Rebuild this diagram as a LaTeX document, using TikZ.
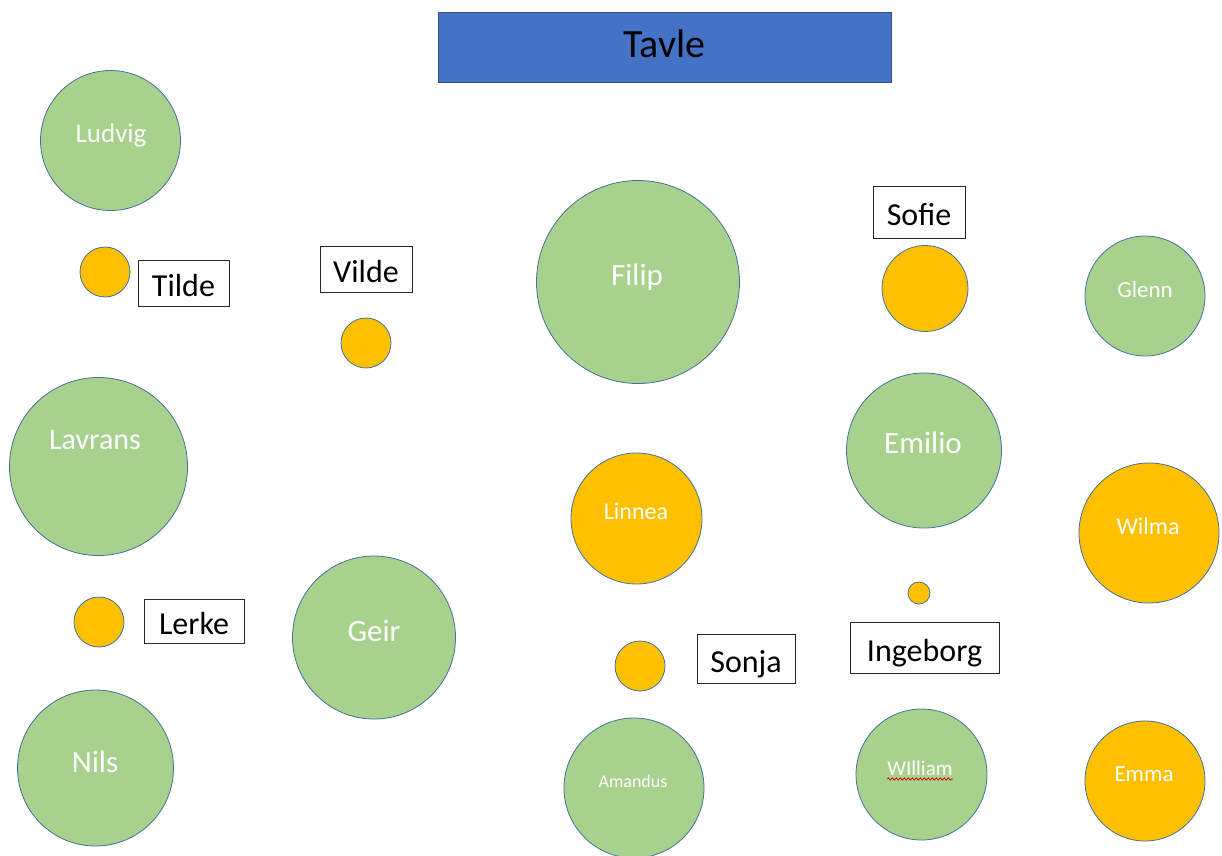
\documentclass[tikz,border=0pt]{standalone}
\usepackage{fontspec}
\setmainfont{Carlito}
\usetikzlibrary{decorations.pathmorphing}
\definecolor{grn}{HTML}{A9D18E}
\definecolor{org}{HTML}{FFC000}
\definecolor{edgeblue}{HTML}{41719C}
\definecolor{tavleblue}{HTML}{4472C4}
\definecolor{tavleedge}{HTML}{2F528F}
\begin{document}
\begin{tikzpicture}[x=1pt,y=-1pt,
  seat/.style={circle, draw=edgeblue, line width=0.8pt, fill=grn, inner sep=0pt, minimum size=#1},
  dot/.style={circle, draw=edgeblue, line width=0.8pt, fill=org, inner sep=0pt, minimum size=#1},
  namelab/.style={text=white, anchor=base, inner sep=0pt, font=\fontsize{#1}{#1}\selectfont},
  tagbox/.style={draw=black!85, line width=0.8pt, fill=white, inner sep=0pt,
    font=\fontsize{32}{32}\selectfont, text height=27.6pt, text depth=0pt},
  squiggle/.style={draw=red!85!black, line width=0.7pt, decorate,
    decoration={snake, amplitude=1.1pt, segment length=4pt}}
]
\useasboundingbox (0,0) rectangle (1222,855);

% board
\node[draw=tavleedge, line width=0.8pt, fill=tavleblue, inner sep=0pt,
  minimum width=453pt, minimum height=70pt, font=\fontsize{40}{40}\selectfont,
  text height=25.8pt, text depth=5pt] (tavle) at (664.5,47) {Tavle};

% green seats
\node[seat=140pt] (ludvig) at (110.5,140.5) {};
\node[seat=178pt] (lavrans) at (98.5,466.5) {};
\node[seat=156pt] (nils) at (95.5,768) {};
\node[seat=163pt] (geir) at (374,637.5) {};
\node[seat=203pt] (filip) at (638,282) {};
\node[seat=140pt] (amandus) at (634,788) {};
\node[seat=120pt] (glenn) at (1145,296) {};
\node[seat=155pt] (emilio) at (924,450.5) {};
\node[seat=131pt] (william) at (921.5,774.5) {};

% orange seats
\node[dot=50pt] (tildec) at (105,272) {};
\node[dot=50pt] (vildec) at (366,343) {};
\node[dot=50pt] (lerkec) at (99,622) {};
\node[dot=50pt] (sonjac) at (640,666) {};
\node[dot=86pt] (sofiec) at (925,288.5) {};
\node[dot=22pt] (ingeborgc) at (919,593) {};
\node[dot=131pt] (linnea) at (636.5,518.5) {};
\node[dot=140pt] (wilma) at (1149,533) {};
\node[dot=120pt] (emma) at (1145,781) {};

% names inside circles
\node[namelab=27] (ludviglab) at (111,142) {Ludvig};
\node[namelab=30] (lavranslab) at (95,449) {Lavrans};
\node[namelab=31] (nilslab) at (95,772) {Nils};
\node[namelab=31] (geirlab) at (374,641) {Geir};
\node[namelab=31] (fliplab) at (637,285) {Filip};
\node[namelab=24] (linnealab) at (636,519) {Linnea};
\node[namelab=18] (amanduslab) at (633,787) {Amandus};
\node[namelab=23] (glennlab) at (1145,297) {Glenn};
\node[namelab=31] (emiliolab) at (923,453) {Emilio};
\node[namelab=24] (wilmalab) at (1148,534) {Wilma};
\node[namelab=21] (williamlab) at (920,775) {WIlliam};
\node[namelab=23] (emmalab) at (1144,781) {Emma};
\draw[squiggle] ([yshift=-4pt]williamlab.base west) -- ([yshift=-4pt]williamlab.base east);

% name tags
\node[tagbox, minimum width=91pt, minimum height=46pt] (tilde) at (183.5,283) {Tilde};
\node[tagbox, minimum width=92pt, minimum height=46pt] (vilde) at (366,269) {Vilde};
\node[tagbox, minimum width=100pt, minimum height=44pt] (lerke) at (194,621) {Lerke};
\node[tagbox, minimum width=98pt, minimum height=49pt] (sonja) at (746,658.5) {Sonja};
\node[tagbox, minimum width=92pt, minimum height=52pt] (sofie) at (919,212) {Sofie};
\node[tagbox, minimum width=149pt, minimum height=51pt] (ingeborg) at (924.5,647.5) {Ingeborg};
\end{tikzpicture}
\end{document}
